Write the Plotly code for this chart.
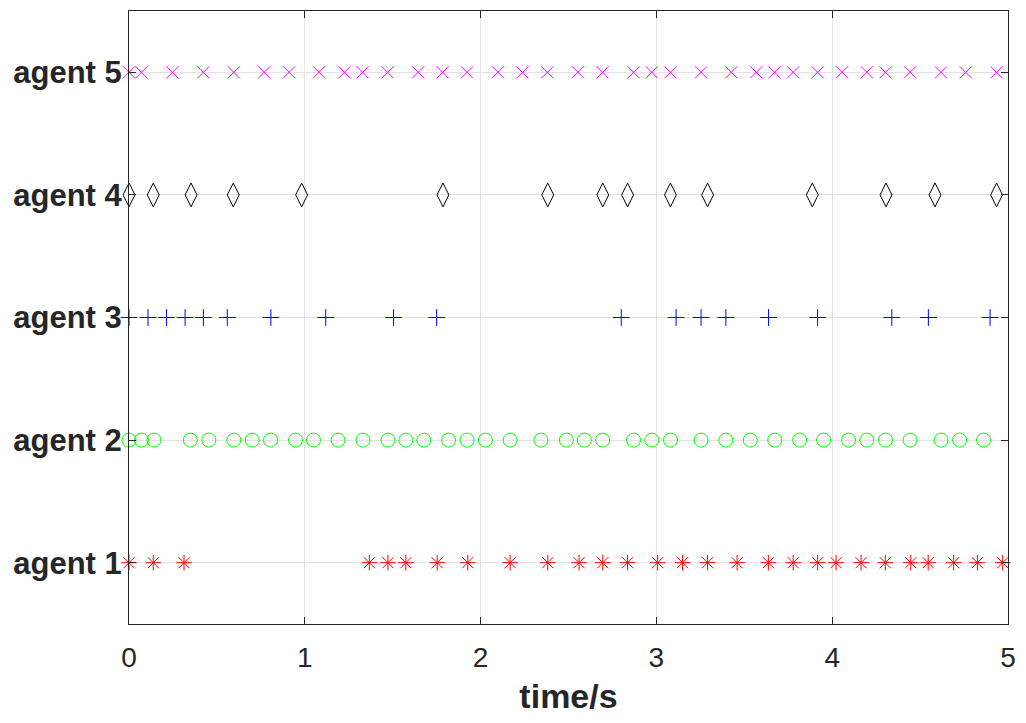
import plotly.graph_objects as go

# event times per agent (s)
agent1_t = [0.0, 0.138, 0.313, 1.367, 1.473, 1.575, 1.753, 1.927, 2.168, 2.382,
            2.560, 2.695, 2.836, 3.007, 3.149, 3.291, 3.459, 3.637, 3.778, 3.917,
            4.022, 4.164, 4.302, 4.447, 4.546, 4.691, 4.826, 4.970]
agent2_t = [0.0, 0.071, 0.142, 0.349, 0.454, 0.596, 0.701, 0.805, 0.947, 1.049,
            1.189, 1.331, 1.473, 1.575, 1.677, 1.818, 1.923, 2.027, 2.168, 2.343,
            2.488, 2.590, 2.694, 2.870, 2.974, 3.080, 3.254, 3.395, 3.534, 3.673,
            3.815, 3.951, 4.093, 4.197, 4.303, 4.443, 4.619, 4.725, 4.861]
agent3_t = [0.0, 0.108, 0.213, 0.319, 0.423, 0.559, 0.807, 1.119, 1.505, 1.750,
            2.800, 3.112, 3.254, 3.395, 3.638, 3.917, 4.339, 4.547, 4.898]
agent4_t = [0.0, 0.138, 0.353, 0.593, 0.982, 1.786, 2.382, 2.695, 2.836, 3.080,
            3.291, 3.887, 4.306, 4.585, 4.935]
agent5_t = [0.0, 0.071, 0.247, 0.423, 0.596, 0.769, 0.911, 1.081, 1.225, 1.329,
            1.471, 1.645, 1.784, 1.923, 2.099, 2.238, 2.380, 2.554, 2.694, 2.870,
            2.974, 3.080, 3.254, 3.426, 3.568, 3.672, 3.778, 3.917, 4.056, 4.197,
            4.303, 4.443, 4.619, 4.759, 4.935]

agent_labels = ['agent 1', 'agent 2', 'agent 3', 'agent 4', 'agent 5']
x_ticks = [0, 1, 2, 3, 4, 5]

series = [
    (agent1_t, 1, 'asterisk-open', '#FF0000', 13),
    (agent2_t, 2, 'circle-open', '#00FF00', 14),
    (agent3_t, 3, 'cross-thin-open', '#0000FF', 12),
    (agent4_t, 4, 'diamond-tall-open', '#000000', 17),
    (agent5_t, 5, 'x-thin-open', '#FF00FF', 12),
]

fig = go.Figure()
for tt, lvl, sym, col, sz in series:
    fig.add_trace(go.Scatter(
        x=tt, y=[lvl] * len(tt), mode='markers',
        marker=dict(symbol=sym, size=sz, color=col,
                    line=dict(color=col, width=1)),
        showlegend=False, cliponaxis=False
    ))

eixo = dict(showline=True, linecolor='#262626', linewidth=1, mirror='ticks',
            ticks='inside', ticklen=7, tickcolor='#262626',
            showgrid=True, gridcolor='#E3E3E3', gridwidth=1, zeroline=False)

# a pagina tem 8px de margem no body -> figura um pouco menor que a janela
fig.update_layout(
    width=1010, height=707,
    margin=dict(l=121, r=8, t=2, b=91),
    plot_bgcolor='white', paper_bgcolor='white',
    xaxis=dict(range=[0, 5], tickvals=x_ticks, ticklabelstandoff=8,
               tickfont=dict(family='Liberation Sans, Arial', size=28, color='#262626'),
               title=dict(text='<b>time/s</b>', standoff=17,
                          font=dict(family='Liberation Sans, Arial', size=34, color='#262626')),
               **eixo),
    yaxis=dict(range=[0.5, 5.5], tickvals=[1, 2, 3, 4, 5],
               ticktext=[f'<b>{s}</b>' for s in agent_labels],
               tickfont=dict(family='Liberation Sans, Arial', size=31, color='#262626'),
               **eixo),
)

fig.write_html('out.html')
